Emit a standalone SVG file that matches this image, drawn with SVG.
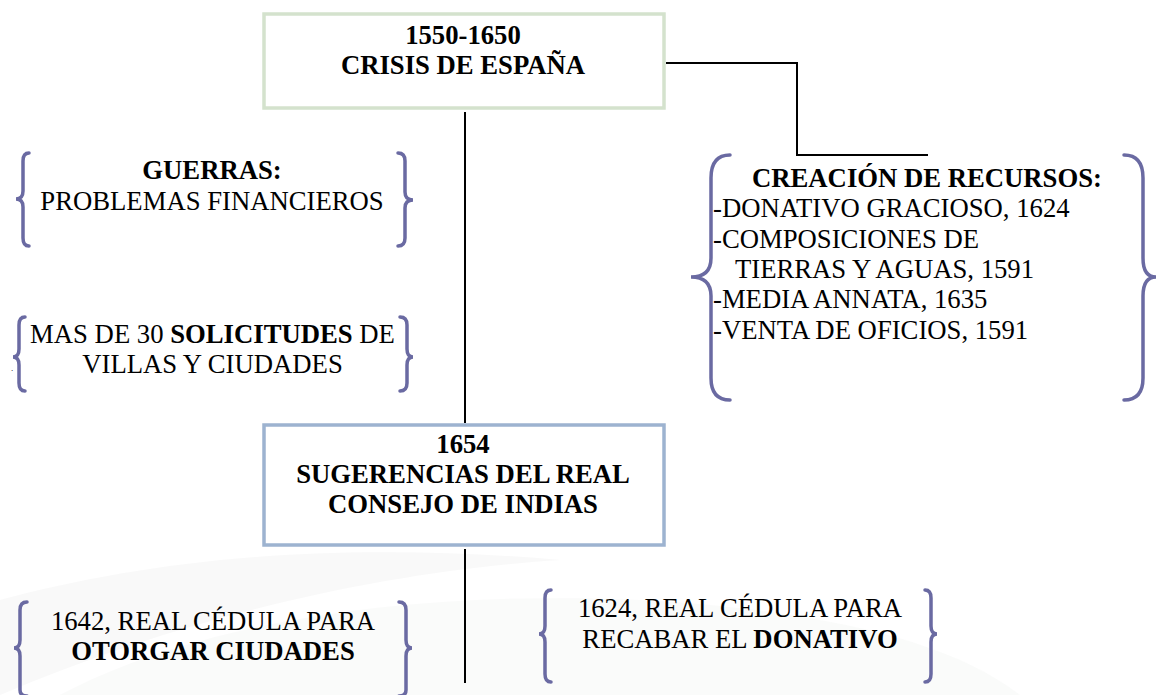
<svg xmlns="http://www.w3.org/2000/svg" width="1156" height="695" viewBox="0 0 1156 695">
<style>
text{font-size:26.7px;fill:#000}
.b{font-weight:bold}
.c{text-anchor:middle}
.brace{fill:none;stroke:#6a6aa2;stroke-width:3.5;stroke-linecap:round}
.conn{fill:none;stroke:#000;stroke-width:2}
</style>
<rect width="1156" height="695" fill="#fff"/>
<g id="watermark" opacity="0.35">
<path d="M0 600 C150 560 330 540 560 560 C400 570 200 610 0 695 Z" fill="#eeeeee"/>
<path d="M60 695 C200 620 420 590 640 600 C820 610 950 640 1020 695 Z" fill="#f2f4f2"/>
</g>
<g id="connectors">
<path class="conn" d="M666 63 H797 V155 H928"/>
<path class="conn" d="M465 112 V423"/>
<path class="conn" d="M465 549 V683"/>
</g>
<g font-family="'Liberation Serif', 'Times New Roman', 'DejaVu Serif', serif">
<g id="crisis">
<rect x="264" y="14" width="400" height="94" fill="#fff" stroke="#d4e2cd" stroke-width="3.5"/>
<text class="b c" x="463" y="44">1550-1650</text>
<text class="b c" x="463" y="74">CRISIS DE ESPAÑA</text>
</g>
<g id="sugerencias">
<rect x="264" y="425" width="400" height="120" fill="#fff" stroke="#9db3d0" stroke-width="3.5"/>
<text class="b c" x="463" y="453">1654</text>
<text class="b c" x="463" y="483">SUGERENCIAS DEL REAL</text>
<text class="b c" x="463" y="513">CONSEJO DE INDIAS</text>
</g>
<g id="guerras">
<path class="brace" d="M29 153 Q23 153 23 161 L23 191 Q23 199 16 199 Q23 199 23 207 L23 238 Q23 246 29 246"/>
<path class="brace" d="M398 153 Q405 153 405 161 L405 192 Q405 200 413 200 Q405 200 405 208 L405 238 Q405 246 398 246"/>
<text class="b c" x="212" y="179">GUERRAS:</text>
<text class="c" x="212" y="210">PROBLEMAS FINANCIEROS</text>
</g>
<g id="solicitudes">
<path class="brace" d="M25 317 Q19 317 19 325 L19 349 Q19 357 13 357 Q19 357 19 365 L19 383 Q19 391 25 391"/>
<path class="brace" d="M400 317 Q407 317 407 325 L407 349 Q407 357 413 357 Q407 357 407 365 L407 383 Q407 391 400 391"/>
<text class="c" x="212.5" y="343">MAS DE 30 <tspan class="b">SOLICITUDES</tspan> DE</text>
<text class="c" x="212.5" y="373">VILLAS Y CIUDADES</text>
<text x="11" y="371" style="font-size:9px">.</text>
</g>
<g id="recursos">
<path class="brace" d="M730 155 Q711 155 711 178 L711 258 Q711 277 691 277 Q711 277 711 296 L711 378 Q711 400 730 400"/>
<path class="brace" d="M1124 155 Q1143 155 1143 178 L1143 258 Q1143 277 1156 277 Q1143 277 1143 296 L1143 378 Q1143 400 1124 400"/>
<text class="b" x="752" y="187">CREACIÓN DE RECURSOS:</text>
<text x="713" y="217">-DONATIVO GRACIOSO, 1624</text>
<text x="713" y="248">-COMPOSICIONES DE</text>
<text x="735" y="278">TIERRAS Y AGUAS, 1591</text>
<text x="713" y="308">-MEDIA ANNATA, 1635</text>
<text x="713" y="339">-VENTA DE OFICIOS, 1591</text>
</g>
<g id="otorgar">
<path class="brace" d="M27 602 Q20 602 20 610 L20 640 Q20 648 14 648 Q20 648 20 656 L20 690 Q20 696 27 696"/>
<path class="brace" d="M399 602 Q406 602 406 610 L406 640 Q406 648 412 648 Q406 648 406 656 L406 690 Q406 696 399 696"/>
<text class="c" x="213" y="630">1642, REAL CÉDULA PARA</text>
<text class="b c" x="213" y="660">OTORGAR CIUDADES</text>
</g>
<g id="donativo">
<path class="brace" d="M551 590 Q545 590 545 598 L545 626 Q545 634 539 634 Q545 634 545 642 L545 674 Q545 682 551 682"/>
<path class="brace" d="M925 590 Q931 590 931 598 L931 626 Q931 634 937 634 Q931 634 931 642 L931 674 Q931 682 925 682"/>
<text class="c" x="740" y="617">1624, REAL CÉDULA PARA</text>
<text class="c" x="740" y="648">RECABAR EL <tspan class="b">DONATIVO</tspan></text>
</g>
</g>
</svg>
